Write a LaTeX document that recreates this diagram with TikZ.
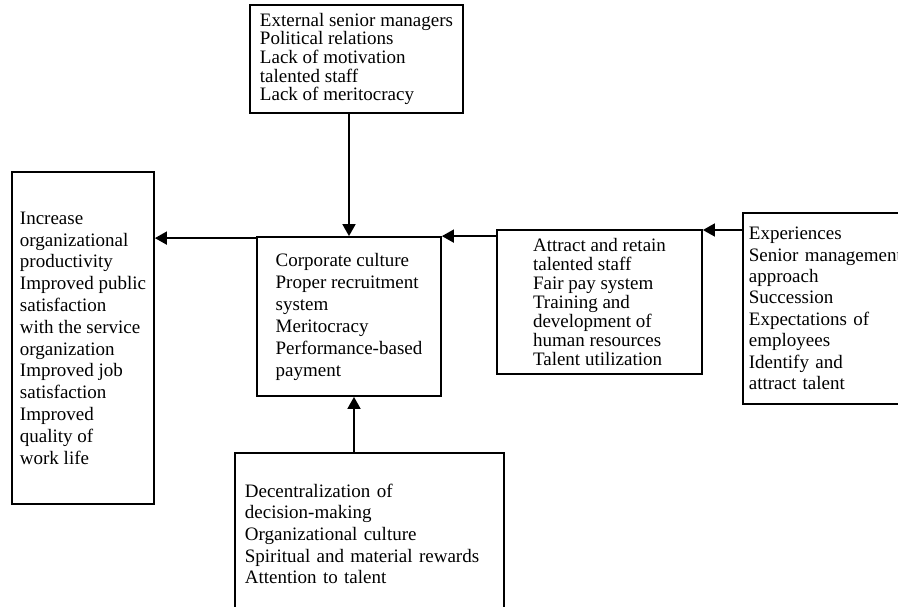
\documentclass[tikz,border=0pt]{standalone}
\usepackage{fontspec}
\setmainfont{Liberation Serif}
\usetikzlibrary{arrows.meta}
\tikzset{
  box/.style={draw=black, line width=1.8pt, rectangle, align=left, inner sep=0pt},
  arr/.style={line width=1.8pt, -{Triangle[length=12pt,width=13pt]}},
}
\newcommand{\boxfont}[1]{\fontsize{19}{#1}\selectfont}
\begin{document}
\begin{tikzpicture}[x=1pt,y=-1pt]
\useasboundingbox (0,0) rectangle (898,606);
\clip (0,0) rectangle (898,606);
\fill[white] (0,0) rectangle (898,606);

\node[box, minimum width=213pt, minimum height=108pt, font=\boxfont{18.6}] (top) at (356.5,59)
  {External senior managers\\Political relations\\Lack of motivation\\talented staff\\Lack of meritocracy};

\node[box, minimum width=184pt, minimum height=159pt, font=\boxfont{22}] (ctr) at (349,316.5)
  {Corporate culture\\Proper recruitment\\system\\Meritocracy\\Performance-based\\payment};

\node[box, minimum width=142pt, minimum height=332pt, font=\boxfont{21.8}] (left) at (83,338)
  {Increase\\organizational\\productivity\\Improved public\\satisfaction\\with the service\\organization\\Improved job\\satisfaction\\Improved\\quality of\\work life};

\node[box, minimum width=205pt, minimum height=144pt, font=\boxfont{18.9}] (mr) at (599.5,302)
  {Attract and retain\\talented staff\\Fair pay system\\Training and\\development of\\human resources\\Talent utilization};

\node[box, anchor=north west, inner xsep=6pt, text width=178pt, minimum height=191pt, font=\boxfont{21.4}] (rb) at (742,212)
  {Experiences\\Senior management\\approach\\Succession\\Expectations of\\employees\\Identify and\\attract talent};

\node[box, anchor=north west, inner xsep=10pt, text width=249pt, minimum height=162pt, font=\boxfont{21.7}] (bot) at (234,452)
  {Decentralization of\\decision-making\\Organizational culture\\Spiritual and material rewards\\Attention to talent};

\draw[arr] (top.south -| ctr.north) -- (ctr.north);
\draw[arr] ([yshift=-2pt]ctr.north west) -- ([yshift=-2pt]ctr.north west -| left.east);
\draw[arr] ([yshift=-7pt]mr.north west) -- ([yshift=-7pt]mr.north west -| ctr.east);
\draw[arr] ([yshift=-18pt]rb.north west) -- ([yshift=-18pt]rb.north west -| mr.east);
\draw[arr] ([xshift=5pt]bot.north -| ctr.south) -- ([xshift=5pt]ctr.south);
\end{tikzpicture}
\end{document}
